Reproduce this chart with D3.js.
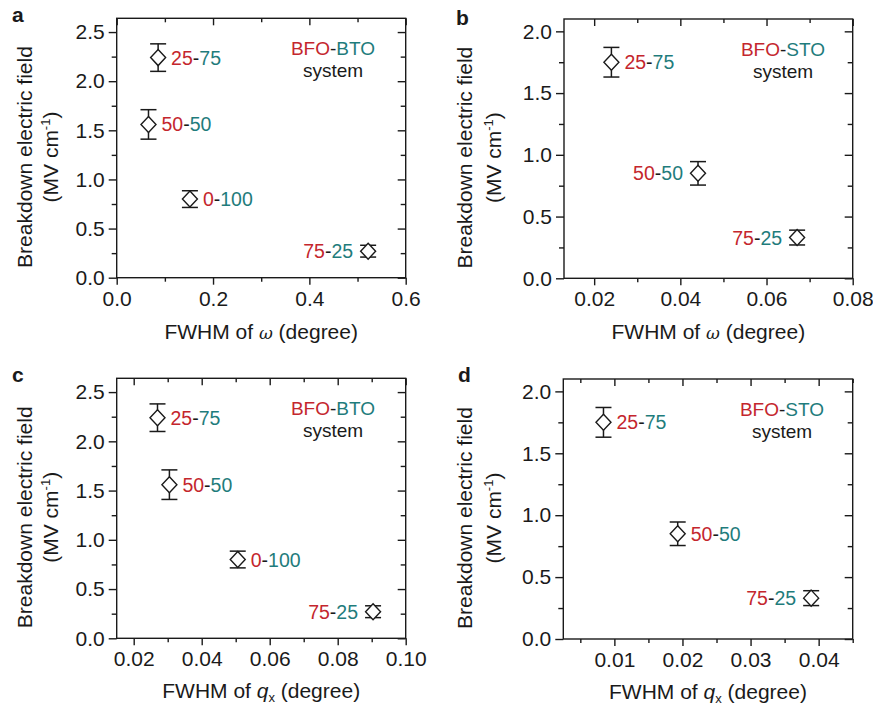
<!DOCTYPE html>
<meta charset="utf-8">
<style>
body { margin: 0; background: #fff; }
text { font-family: "Liberation Sans", Arial, sans-serif; fill: #1a1a1a; }
.tick text { font-size: 21px; }
.tick line, .frame { stroke: #1a1a1a; stroke-width: 1.4px; }
.frame { fill: none; }
</style>
<svg width="873" height="708"></svg>
<script src="https://d3js.org/d3.v7.min.js"></script>
<script>

// BFO-BTO system (panels a, c)
var btoComp  = ["25-75", "50-50", "0-100", "75-25"];
var btoField = [2.24, 1.56, 0.80, 0.27];
var btoErr   = [0.14, 0.15, 0.085, 0.06];
var btoOmega = [0.086, 0.066, 0.152, 0.522];
var btoQx    = [0.027, 0.0305, 0.0506, 0.0904];

// BFO-STO system (panels b, d)
var stoComp  = ["25-75", "50-50", "75-25"];
var stoField = [1.75, 0.85, 0.33];
var stoErr   = [0.12, 0.095, 0.06];
var stoOmega = [0.024, 0.0441, 0.0671];
var stoQx    = [0.0084, 0.0193, 0.0389];

// tick values
var ticksA = { major: [0, 0.2, 0.4, 0.6], minor: [0.1, 0.3, 0.5] };
var ticksB = { major: [0.02, 0.04, 0.06, 0.08], minor: [0.03, 0.05, 0.07] };
var ticksC = { major: [0.02, 0.04, 0.06, 0.08, 0.10], minor: [0.03, 0.05, 0.07, 0.09] };
var ticksD = { major: [0.01, 0.02, 0.03, 0.04], minor: [0.005, 0.015, 0.025, 0.035, 0.045] };
var ticksBtoY = { major: [0, 0.5, 1.0, 1.5, 2.0, 2.5], minor: [0.25, 0.75, 1.25, 1.75, 2.25] };
var ticksStoY = { major: [0, 0.5, 1.0, 1.5, 2.0], minor: [0.25, 0.75, 1.25, 1.75] };

var RED = "#c4262d", TEAL = "#1f7c7c";

var panels = [
  { letter: "a", comp: btoComp, xv: btoOmega, yv: btoField, err: btoErr, sides: ["r", "r", "r", "l"],
    xDom: [0, 0.6], yDom: [0, 2.64], xt: ticksA, yt: ticksBtoY, xfmt: ".1f", sys: "BTO", q: false,
    box: [116.7, 18.3, 405.7, 277.7], titleX: [32, 58], sysX: 333, letterPos: [12, 22] },
  { letter: "b", comp: stoComp, xv: stoOmega, yv: stoField, err: stoErr, sides: ["r", "l", "l"],
    xDom: [0.013, 0.08], yDom: [0, 2.1], xt: ticksB, yt: ticksStoY, xfmt: ".2f", sys: "STO", q: false,
    box: [564, 19, 852.7, 278.3], titleX: [472, 501], sysX: 783, letterPos: [456, 25] },
  { letter: "c", comp: btoComp, xv: btoQx, yv: btoField, err: btoErr, sides: ["r", "r", "r", "l"],
    xDom: [0.015, 0.1], yDom: [0, 2.64], xt: ticksC, yt: ticksBtoY, xfmt: ".2f", sys: "BTO", q: true,
    box: [116.7, 378.3, 405.7, 638.3], titleX: [32, 58], sysX: 333, letterPos: [12, 382] },
  { letter: "d", comp: stoComp, xv: stoQx, yv: stoField, err: stoErr, sides: ["r", "r", "l"],
    xDom: [0.0025, 0.045], yDom: [0, 2.1], xt: ticksD, yt: ticksStoY, xfmt: ".2f", sys: "STO", q: true,
    box: [563.3, 379, 852.7, 639], titleX: [472, 501], sysX: 782, letterPos: [458, 382] }
];

var svg = d3.select("svg");

panels.forEach(function(p) {
  var L = p.box[0], T = p.box[1], R = p.box[2], B = p.box[3];
  var x = d3.scaleLinear().domain(p.xDom).range([L, R]);
  var y = d3.scaleLinear().domain(p.yDom).range([B, T]);
  var g = svg.append("g");

  // axes: outward on bottom/left, inward on top/right
  function ax(axis, tr) {
    var a = g.append("g").attr("transform", tr).call(axis);
    a.select(".domain").remove();
    return a;
  }
  ax(d3.axisBottom(x).tickValues(p.xt.major).tickSize(7).tickPadding(6).tickFormat(d3.format(p.xfmt)), "translate(0," + B + ")");
  ax(d3.axisBottom(x).tickValues(p.xt.minor).tickSize(4).tickFormat(""), "translate(0," + B + ")");
  ax(d3.axisTop(x).tickValues(p.xt.major).tickSize(-7).tickFormat(""), "translate(0," + T + ")");
  ax(d3.axisTop(x).tickValues(p.xt.minor).tickSize(-4).tickFormat(""), "translate(0," + T + ")");
  ax(d3.axisLeft(y).tickValues(p.yt.major).tickSize(8).tickPadding(4).tickFormat(d3.format(".1f")), "translate(" + L + ",0)");
  ax(d3.axisLeft(y).tickValues(p.yt.minor).tickSize(5).tickFormat(""), "translate(" + L + ",0)");
  ax(d3.axisRight(y).tickValues(p.yt.major).tickSize(-8).tickFormat(""), "translate(" + R + ",0)");
  ax(d3.axisRight(y).tickValues(p.yt.minor).tickSize(-5).tickFormat(""), "translate(" + R + ",0)");
  g.selectAll(".tick text").attr("fill", "#1a1a1a");

  g.append("rect").attr("class", "frame")
    .attr("x", L).attr("y", T).attr("width", R - L).attr("height", B - T);

  // panel letter
  g.append("text").attr("x", p.letterPos[0]).attr("y", p.letterPos[1])
    .style("font-size", "21px").style("font-weight", "bold").text(p.letter);

  // y title
  var cy = (T + B) / 2 + 9;
  g.append("text").attr("transform", "translate(" + p.titleX[0] + "," + cy + ") rotate(-90)")
    .attr("text-anchor", "middle").style("font-size", "21px").text("Breakdown electric field");
  var t2 = g.append("text").attr("transform", "translate(" + p.titleX[1] + "," + cy + ") rotate(-90)")
    .attr("text-anchor", "middle").style("font-size", "21px");
  t2.append("tspan").text("(MV cm");
  t2.append("tspan").attr("dy", -8).style("font-size", "13px").text("-1");
  t2.append("tspan").attr("dy", 8).text(")");

  // x title
  var xt = g.append("text").attr("x", (L + R) / 2).attr("y", p.q ? B + 60 : B + 61)
    .attr("text-anchor", "middle").style("font-size", "21px");
  xt.append("tspan").text("FWHM of ");
  if (p.q) {
    xt.append("tspan").style("font-style", "italic").text("q");
    xt.append("tspan").attr("dy", 4).style("font-size", "13px").text("x");
    xt.append("tspan").attr("dy", -4).text(" (degree)");
  } else {
    xt.append("tspan").style("font-style", "italic").attr("font-family", "DejaVu Serif").style("font-size", "17px").text("ω");
    xt.append("tspan").text(" (degree)");
  }

  // system label
  var s1 = g.append("text").attr("x", p.sysX).attr("y", T + 37)
    .attr("text-anchor", "middle").style("font-size", "19px");
  s1.append("tspan").attr("fill", RED).text("BFO");
  s1.append("tspan").attr("fill", "#1a1a1a").text("-");
  s1.append("tspan").attr("fill", TEAL).text(p.sys);
  g.append("text").attr("x", p.sysX).attr("y", T + 59)
    .attr("text-anchor", "middle").style("font-size", "19px").text("system");

  var pts = p.comp.map(function(c, i) {
    return { comp: c, x: p.xv[i], y: p.yv[i], e: p.err[i], side: p.sides[i] };
  });

  // error bars
  var eb = g.selectAll(".eb").data(pts).enter().append("g")
    .attr("stroke", "#1a1a1a").attr("stroke-width", 1.5);
  eb.append("line")
    .attr("x1", function(d) { return x(d.x); }).attr("x2", function(d) { return x(d.x); })
    .attr("y1", function(d) { return y(d.y + d.e); }).attr("y2", function(d) { return y(d.y - d.e); });
  [1, -1].forEach(function(s) {
    eb.append("line")
      .attr("x1", function(d) { return x(d.x) - 8; }).attr("x2", function(d) { return x(d.x) + 8; })
      .attr("y1", function(d) { return y(d.y + s * d.e); }).attr("y2", function(d) { return y(d.y + s * d.e); });
  });

  // diamonds
  g.selectAll(".pt").data(pts).enter().append("path")
    .attr("d", function(d) {
      var cx = x(d.x), cyy = y(d.y);
      return "M" + cx + "," + (cyy - 8) + "L" + (cx + 7.5) + "," + cyy + "L" + cx + "," + (cyy + 8) + "L" + (cx - 7.5) + "," + cyy + "Z";
    })
    .attr("fill", "#fff").attr("stroke", "#1a1a1a").attr("stroke-width", 1.4);

  // composition labels
  var lab = g.selectAll(".lab").data(pts).enter().append("text")
    .attr("x", function(d) { return d.side === "r" ? x(d.x) + 13 : x(d.x) - 15; })
    .attr("y", function(d) { return y(d.y) + 7; })
    .attr("text-anchor", function(d) { return d.side === "r" ? "start" : "end"; })
    .style("font-size", "19.5px");
  lab.append("tspan").attr("fill", RED).text(function(d) { return d.comp.split("-")[0]; });
  lab.append("tspan").attr("fill", "#1a1a1a").text("-");
  lab.append("tspan").attr("fill", TEAL).text(function(d) { return d.comp.split("-")[1]; });
});

</script>
